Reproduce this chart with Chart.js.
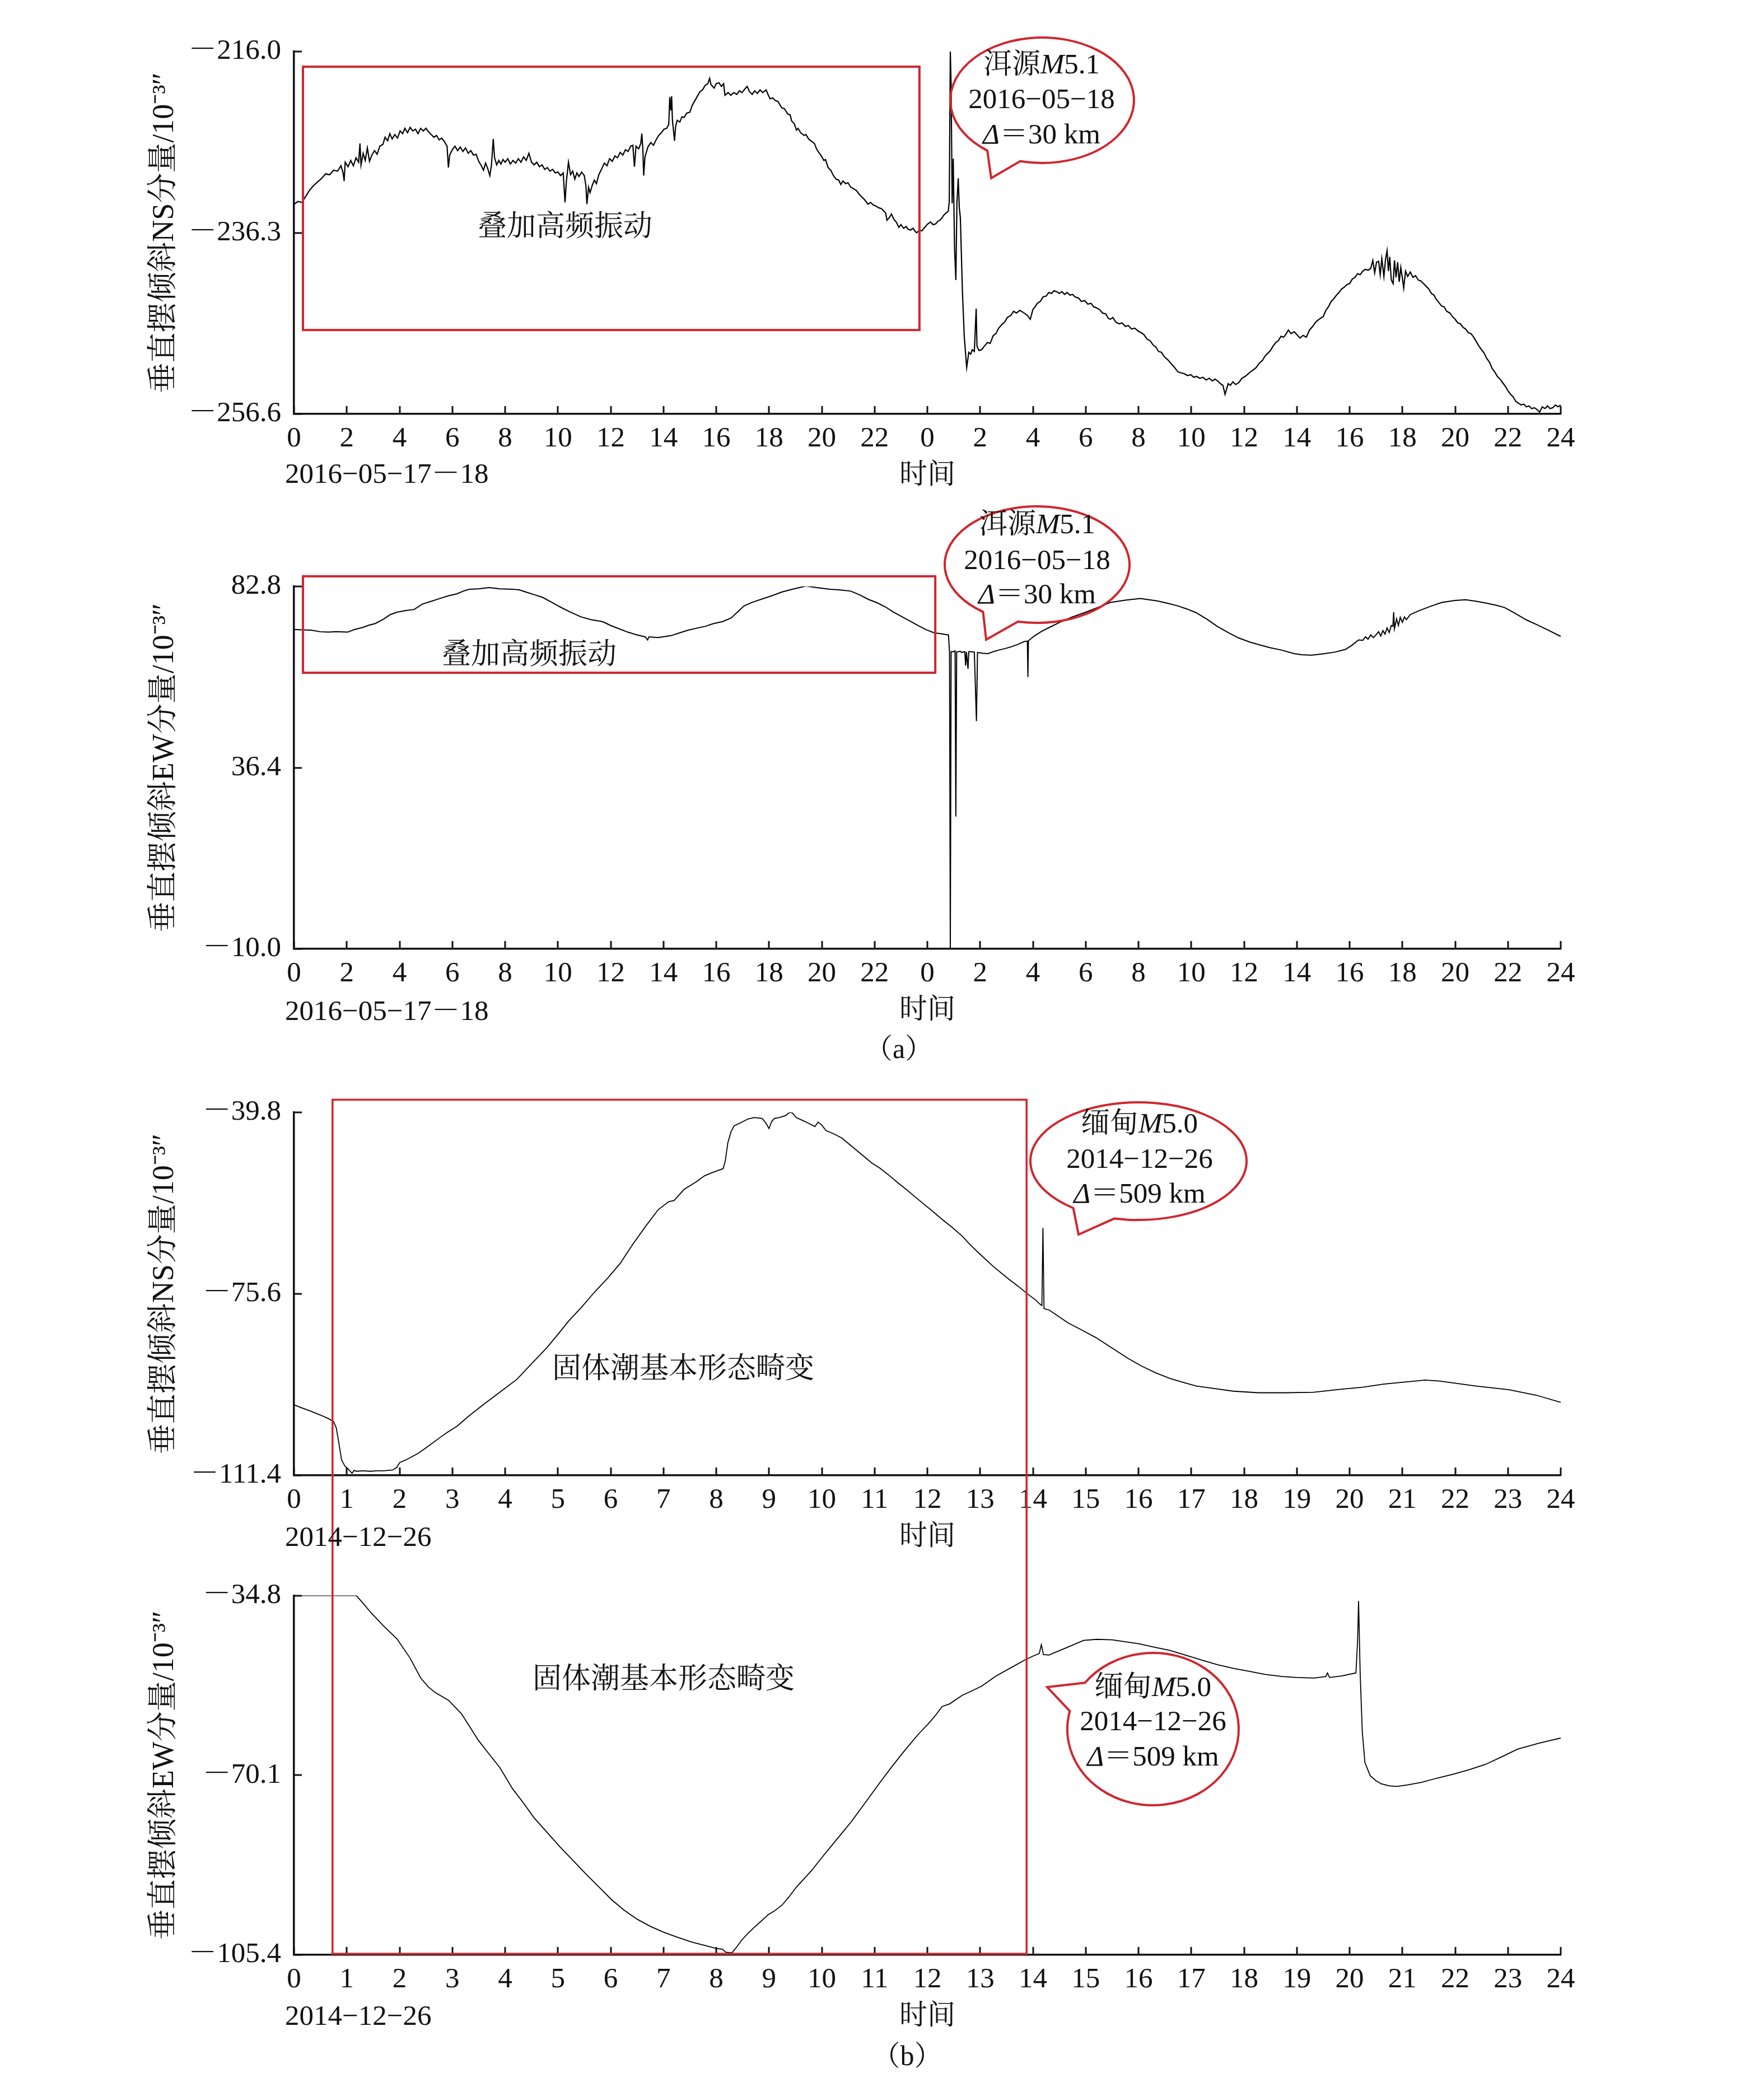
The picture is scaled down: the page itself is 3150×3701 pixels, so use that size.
<!DOCTYPE html>
<html>
<head>
<meta charset="utf-8">
<script src="https://cdn.jsdelivr.net/npm/chart.js@4.4.1/dist/chart.umd.min.js"></script>
<style>
  body { margin: 0; background: #fff; width: 3150px; height: 3701px; position: relative; overflow: hidden; }
  canvas { position: absolute; left: 0; }
</style>
</head>
<body>
<canvas id="c1" width="3150" height="900" style="top:0px"></canvas>
<canvas id="c2" width="3150" height="1000" style="top:900px"></canvas>
<canvas id="c3" width="3150" height="915" style="top:1880px"></canvas>
<canvas id="c4" width="3150" height="906" style="top:2795px"></canvas>
<script>
// ---- data: [hour, value] ----
// (a) 2016-05-17/18, two days on one axis (0..48 h)
const nsA = [
  [0.00,-233.1],[0.15,-232.8],[0.30,-232.9],[0.45,-232.2],[0.60,-231.5],[0.75,-231.0],[0.90,-230.6],[1.05,-230.2],
  [1.20,-229.7],[1.35,-229.8],[1.50,-229.3],[1.65,-229.4],[1.78,-228.8],[1.86,-229.6],[1.90,-230.5],[1.94,-228.4],
  [2.05,-228.9],[2.15,-228.2],[2.25,-228.8],[2.35,-227.9],[2.45,-228.4],[2.50,-226.3],[2.54,-228.7],[2.62,-227.4],
  [2.70,-228.2],[2.78,-226.8],[2.86,-228.3],[2.95,-227.6],[3.05,-227.1],[3.15,-227.5],[3.25,-226.6],[3.37,-226.4],
  [3.45,-225.6],[3.55,-226.0],[3.63,-225.2],[3.72,-225.8],[3.82,-225.3],[3.92,-225.7],[4.02,-224.9],[4.12,-225.2],
  [4.20,-224.6],[4.30,-225.1],[4.40,-224.5],[4.50,-224.9],[4.60,-224.7],[4.70,-225.2],[4.80,-224.6],[4.90,-224.9],
  [5.00,-224.6],[5.10,-225.0],[5.20,-225.3],[5.30,-225.6],[5.40,-225.4],[5.50,-225.9],[5.60,-225.7],[5.70,-226.1],
  [5.80,-226.6],[5.85,-229.0],[5.90,-227.6],[6.00,-227.0],[6.10,-226.6],[6.20,-227.1],[6.30,-226.7],[6.40,-227.2],
  [6.50,-226.8],[6.60,-227.4],[6.70,-227.1],[6.80,-227.6],[6.90,-227.5],[7.00,-228.3],[7.10,-228.8],[7.18,-229.3],
  [7.26,-228.5],[7.34,-229.1],[7.42,-229.9],[7.48,-228.8],[7.55,-225.8],[7.60,-227.9],[7.68,-228.7],[7.76,-228.2],
  [7.84,-228.6],[7.92,-228.1],[8.00,-228.4],[8.10,-228.0],[8.20,-228.6],[8.30,-228.2],[8.40,-228.5],[8.50,-228.0],
  [8.60,-228.4],[8.70,-227.8],[8.80,-228.2],[8.90,-227.4],[9.00,-228.4],[9.10,-228.7],[9.20,-228.4],[9.30,-228.9],
  [9.40,-228.7],[9.50,-229.2],[9.60,-229.0],[9.70,-229.4],[9.80,-229.2],[9.90,-229.6],[10.00,-229.5],[10.10,-229.9],
  [10.20,-229.6],[10.27,-232.9],[10.32,-230.6],[10.40,-228.4],[10.48,-229.8],[10.56,-229.4],[10.64,-230.3],[10.72,-229.6],
  [10.80,-230.0],[10.90,-229.5],[11.00,-229.9],[11.06,-231.0],[11.10,-233.1],[11.16,-231.2],[11.22,-231.8],[11.30,-231.0],
  [11.38,-230.4],[11.46,-230.8],[11.55,-229.8],[11.65,-229.2],[11.76,-228.5],[11.86,-228.8],[11.96,-228.0],[12.06,-228.3],
  [12.16,-227.7],[12.26,-227.9],[12.36,-227.3],[12.46,-227.6],[12.56,-227.0],[12.66,-227.2],[12.76,-226.6],[12.84,-226.5],
  [12.90,-228.9],[12.96,-226.6],[13.06,-226.9],[13.14,-226.3],[13.18,-225.2],[13.22,-227.0],[13.25,-229.9],[13.30,-227.8],
  [13.41,-226.7],[13.52,-226.2],[13.62,-226.5],[13.72,-225.9],[13.82,-225.4],[13.92,-225.1],[14.02,-224.7],[14.12,-224.6],
  [14.20,-224.2],[14.24,-221.1],[14.28,-222.6],[14.31,-221.0],[14.34,-223.7],[14.42,-226.0],[14.46,-224.4],[14.52,-223.7],
  [14.62,-223.9],[14.70,-223.3],[14.78,-223.4],[14.88,-222.9],[15.00,-222.8],[15.08,-222.1],[15.15,-221.7],[15.25,-221.2],
  [15.38,-220.5],[15.48,-220.3],[15.58,-219.8],[15.68,-219.6],[15.75,-219.0],[15.80,-219.7],[15.92,-220.1],[16.00,-219.6],
  [16.10,-219.5],[16.20,-219.9],[16.28,-219.6],[16.33,-220.9],[16.45,-220.6],[16.55,-220.9],[16.67,-220.6],[16.78,-220.8],
  [16.88,-220.4],[16.98,-220.6],[17.08,-220.2],[17.17,-219.9],[17.26,-220.5],[17.36,-220.8],[17.46,-220.4],[17.56,-220.7],
  [17.66,-220.3],[17.76,-220.6],[17.89,-220.3],[17.96,-220.8],[18.04,-221.3],[18.14,-221.2],[18.24,-221.5],[18.34,-221.6],
  [18.48,-222.3],[18.58,-222.4],[18.71,-223.0],[18.80,-223.1],[18.86,-223.8],[18.96,-224.1],[19.04,-224.8],[19.10,-224.6],
  [19.20,-225.1],[19.33,-225.4],[19.40,-225.3],[19.50,-225.8],[19.63,-226.1],[19.72,-226.3],[19.80,-226.9],[19.86,-227.2],
  [19.96,-227.6],[20.08,-228.2],[20.14,-228.1],[20.24,-229.0],[20.34,-229.3],[20.44,-229.9],[20.54,-230.3],[20.64,-230.4],
  [20.72,-230.9],[20.80,-230.5],[20.90,-230.8],[20.99,-230.7],[21.10,-231.2],[21.22,-231.4],[21.32,-231.6],[21.42,-232.0],
  [21.52,-232.3],[21.62,-232.6],[21.75,-233.1],[21.85,-232.9],[21.95,-233.2],[22.05,-233.3],[22.15,-233.5],[22.26,-233.6],
  [22.36,-233.9],[22.42,-234.1],[22.47,-234.9],[22.56,-234.6],[22.64,-234.2],[22.73,-234.8],[22.82,-235.1],[22.92,-235.7],
  [23.00,-235.4],[23.10,-235.8],[23.20,-235.6],[23.26,-235.9],[23.36,-236.0],[23.46,-235.8],[23.55,-236.2],[23.60,-236.3],
  [23.70,-236.0],[23.79,-236.1],[23.90,-235.7],[24.02,-235.3],[24.12,-235.1],[24.22,-235.4],[24.32,-235.3],[24.40,-235.0],
  [24.48,-234.9],[24.56,-234.6],[24.63,-234.3],[24.71,-234.1],[24.79,-233.9],[24.83,-232.8],[24.87,-216.0],[24.90,-219.8],
  [24.94,-233.0],[24.98,-228.0],[25.03,-238.0],[25.08,-241.6],[25.12,-233.0],[25.17,-230.2],[25.21,-233.5],[25.25,-234.6],
  [25.33,-243.0],[25.40,-248.0],[25.49,-251.4],[25.57,-249.7],[25.64,-249.9],[25.70,-249.4],[25.78,-249.6],[25.85,-244.8],
  [25.88,-249.0],[25.96,-249.5],[26.06,-249.4],[26.16,-249.0],[26.28,-248.6],[26.38,-248.7],[26.50,-247.8],[26.60,-247.6],
  [26.70,-247.0],[26.82,-246.6],[26.93,-246.3],[27.03,-245.8],[27.15,-245.6],[27.27,-245.1],[27.38,-245.3],[27.50,-245.0],
  [27.62,-245.2],[27.72,-245.4],[27.80,-245.6],[27.90,-246.0],[28.00,-244.9],[28.08,-244.6],[28.17,-244.2],[28.28,-244.0],
  [28.38,-243.5],[28.50,-243.4],[28.60,-243.0],[28.70,-243.1],[28.80,-242.8],[28.90,-242.9],[29.00,-243.1],[29.10,-242.9],
  [29.20,-243.2],[29.30,-243.0],[29.40,-243.3],[29.50,-243.2],[29.60,-243.5],[29.72,-243.6],[29.84,-244.0],[29.96,-243.9],
  [30.08,-244.3],[30.20,-244.2],[30.30,-244.6],[30.40,-244.7],[30.52,-244.9],[30.64,-245.3],[30.76,-245.4],[30.86,-245.9],
  [30.93,-246.0],[31.03,-245.8],[31.14,-246.3],[31.26,-246.5],[31.38,-246.4],[31.50,-246.8],[31.62,-246.7],[31.74,-247.1],
  [31.86,-247.0],[31.98,-247.3],[32.10,-247.5],[32.20,-247.7],[32.32,-248.2],[32.44,-248.4],[32.56,-248.9],[32.66,-249.1],
  [32.76,-249.6],[32.87,-249.7],[32.98,-250.2],[33.10,-250.5],[33.22,-250.9],[33.34,-251.3],[33.42,-251.6],[33.50,-251.9],
  [33.62,-252.0],[33.74,-252.1],[33.86,-252.3],[33.98,-252.2],[34.10,-252.5],[34.20,-252.4],[34.32,-252.6],[34.44,-252.5],
  [34.56,-252.8],[34.68,-252.6],[34.80,-252.9],[34.90,-252.7],[35.00,-252.9],[35.10,-253.2],[35.20,-253.4],[35.28,-254.4],
  [35.34,-253.8],[35.40,-253.2],[35.48,-253.4],[35.58,-253.0],[35.68,-253.3],[35.80,-253.1],[35.92,-252.6],[36.04,-252.4],
  [36.16,-252.1],[36.28,-251.8],[36.38,-251.6],[36.46,-251.4],[36.58,-250.9],[36.70,-250.6],[36.80,-250.1],[36.90,-249.8],
  [37.00,-249.5],[37.10,-249.0],[37.20,-248.6],[37.30,-248.4],[37.40,-247.9],[37.50,-248.0],[37.58,-247.7],[37.68,-247.2],
  [37.78,-247.6],[37.90,-247.4],[38.00,-247.7],[38.12,-248.1],[38.24,-247.8],[38.36,-248.0],[38.48,-247.2],[38.60,-246.8],
  [38.72,-246.3],[38.84,-246.0],[39.00,-245.7],[39.10,-245.0],[39.20,-244.6],[39.30,-244.0],[39.40,-243.7],[39.50,-243.3],
  [39.60,-243.0],[39.70,-242.6],[39.80,-242.4],[39.90,-242.1],[40.00,-242.0],[40.10,-241.5],[40.20,-241.3],[40.30,-240.9],
  [40.40,-241.0],[40.50,-240.6],[40.60,-240.4],[40.70,-240.5],[40.80,-240.3],[40.88,-239.4],[40.95,-240.8],[41.02,-239.6],
  [41.10,-239.5],[41.16,-241.0],[41.22,-239.2],[41.30,-241.2],[41.36,-239.3],[41.42,-238.3],[41.47,-240.6],[41.52,-239.0],
  [41.58,-241.6],[41.65,-242.0],[41.70,-239.4],[41.76,-241.3],[41.82,-239.6],[41.88,-241.8],[41.94,-240.2],[42.00,-241.4],
  [42.05,-242.5],[42.12,-240.6],[42.20,-241.2],[42.30,-240.7],[42.40,-241.3],[42.50,-241.1],[42.60,-241.6],[42.70,-241.7],
  [42.80,-242.0],[42.90,-242.3],[43.00,-242.6],[43.10,-243.1],[43.20,-243.3],[43.27,-243.7],[43.38,-244.1],[43.48,-244.5],
  [43.58,-244.6],[43.68,-245.1],[43.80,-245.3],[43.90,-245.7],[44.00,-246.0],[44.10,-246.4],[44.20,-246.5],[44.30,-246.9],
  [44.40,-247.1],[44.50,-247.5],[44.60,-247.6],[44.70,-248.0],[44.80,-248.5],[44.90,-249.0],[45.00,-249.4],[45.10,-249.8],
  [45.20,-250.4],[45.30,-250.8],[45.40,-251.5],[45.50,-251.9],[45.60,-252.4],[45.70,-252.7],[45.80,-253.1],[45.90,-253.5],
  [46.00,-254.0],[46.10,-254.4],[46.20,-254.7],[46.30,-255.2],[46.40,-255.4],[46.50,-255.6],[46.60,-255.5],[46.70,-255.8],
  [46.80,-255.7],[46.90,-256.0],[47.00,-255.9],[47.10,-256.1],[47.20,-256.4],[47.30,-255.8],[47.40,-256.0],[47.50,-255.7],
  [47.60,-256.0],[47.70,-255.9],[47.80,-255.6],[47.90,-255.8],[48.00,-255.6]
];

const ewA = [
  [0.0,71.8],[0.3,71.7],[0.65,71.6],[1.0,71.2],[1.3,71.1],[1.6,71.2],[2.03,71.1],[2.3,71.8],[2.6,72.3],[2.85,72.9],
  [3.08,73.3],[3.41,74.5],[3.65,75.6],[3.9,76.2],[4.2,76.6],[4.55,76.9],[4.87,78.3],[5.2,79.0],[5.52,79.7],[5.85,80.4],
  [6.17,80.9],[6.45,81.7],[6.66,82.1],[7.0,82.2],[7.39,82.5],[7.8,82.2],[8.28,82.1],[8.55,81.9],[8.77,81.4],[9.1,80.7],
  [9.42,80.0],[9.75,78.8],[10.07,77.6],[10.45,76.3],[10.88,75.0],[11.25,74.3],[11.69,73.8],[12.0,72.8],[12.34,71.9],
  [12.65,71.1],[12.99,70.4],[13.31,69.9],[13.4,69.1],[13.45,69.9],[13.8,69.7],[14.29,70.2],[14.6,70.9],[14.94,71.6],
  [15.25,72.1],[15.59,72.6],[15.9,73.3],[16.24,73.8],[16.56,74.7],[16.8,76.2],[17.05,77.8],[17.35,78.7],[17.7,79.5],
  [18.1,80.4],[18.5,81.4],[18.95,82.2],[19.4,82.9],[19.8,82.5],[20.3,82.1],[20.7,81.9],[21.1,81.6],[21.45,80.6],
  [21.76,79.5],[22.1,78.6],[22.4,77.6],[22.7,76.3],[23.05,75.0],[23.4,73.7],[23.7,72.6],[24.0,71.6],[24.27,70.9],
  [24.5,70.7],[24.68,70.5],[24.8,70.4],[24.84,66.0],[24.87,-9.8],[24.9,66.1],[25.0,66.1],[25.05,66.3],[25.08,23.9],
  [25.11,66.0],[25.25,66.2],[25.3,65.9],[25.42,66.1],[25.45,62.5],[25.48,66.0],[25.54,61.7],[25.57,66.1],[25.65,66.1],
  [25.78,66.0],[25.86,48.3],[25.9,65.9],[26.1,65.7],[26.3,65.6],[26.5,66.1],[26.7,66.5],[26.95,66.9],[27.2,67.4],
  [27.45,68.0],[27.68,68.7],[27.79,68.8],[27.81,59.6],[27.83,68.9],[28.05,70.1],[28.33,71.3],[28.65,72.4],[28.98,73.5],
  [29.45,74.9],[29.96,76.1],[30.45,77.4],[30.94,78.7],[31.5,79.3],[32.07,79.7],[32.4,79.4],[32.7,79.1],[33.1,78.5],
  [33.5,77.8],[33.85,77.0],[34.18,76.1],[34.6,74.4],[34.98,72.6],[35.4,71.0],[35.8,69.6],[36.2,68.6],[36.6,67.8],
  [37.0,67.1],[37.42,66.5],[37.9,65.6],[38.2,65.3],[38.56,65.2],[39.05,65.6],[39.45,66.0],[39.85,66.7],[40.1,67.8],
  [40.34,69.1],[40.5,69.0],[40.6,69.9],[40.7,69.3],[40.8,70.4],[40.9,69.7],[41.0,70.4],[41.1,71.2],[41.18,70.1],
  [41.26,71.5],[41.34,70.6],[41.42,72.2],[41.5,71.0],[41.58,72.8],[41.64,72.6],[41.67,76.2],[41.7,72.0],[41.78,74.5],
  [41.85,72.8],[41.92,74.9],[42.0,73.6],[42.08,75.0],[42.15,74.3],[42.3,75.6],[42.6,76.5],[43.1,77.8],[43.5,78.7],
  [44.0,79.2],[44.4,79.4],[44.8,79.0],[45.2,78.5],[45.55,78.0],[45.87,77.4],[46.25,76.0],[46.68,74.3],[47.1,73.0],
  [47.5,71.7],[48.0,70.0]
];

// (b) 2014-12-26 (0..24 h)
const nsB = [
  [0.00,-97.5],[0.15,-98.1],[0.33,-98.8],[0.5,-99.5],[0.65,-100.2],[0.75,-100.8],[0.8,-102.0],[0.85,-105.0],[0.9,-108.3],
  [0.96,-109.5],[1.02,-110.1],[1.1,-111.0],[1.14,-110.4],[1.18,-110.6],[1.3,-110.5],[1.45,-110.6],[1.55,-110.5],
  [1.7,-110.5],[1.87,-110.35],[1.95,-109.8],[2.0,-108.9],[2.15,-108.2],[2.36,-107.0],[2.55,-105.6],[2.77,-103.9],
  [2.92,-102.8],[3.09,-101.7],[3.3,-99.8],[3.58,-97.5],[3.9,-95.0],[4.22,-92.5],[4.5,-89.4],[4.8,-86.1],[5.0,-83.6],
  [5.2,-81.0],[5.45,-78.2],[5.69,-75.3],[5.95,-72.4],[6.18,-69.6],[6.42,-65.8],[6.66,-62.3],[6.9,-59.0],[7.1,-57.4],
  [7.2,-57.2],[7.39,-55.0],[7.62,-53.5],[7.78,-52.3],[7.92,-51.7],[8.05,-51.2],[8.13,-50.9],[8.17,-49.45],[8.22,-45.8],
  [8.28,-43.6],[8.34,-42.45],[8.49,-41.7],[8.6,-41.1],[8.72,-40.8],[8.87,-41.0],[8.94,-41.9],[9.0,-43.0],[9.05,-41.6],
  [9.1,-41.0],[9.2,-40.8],[9.32,-40.4],[9.4,-39.7],[9.45,-40.0],[9.51,-40.8],[9.62,-41.3],[9.74,-41.9],[9.87,-42.6],
  [9.93,-41.7],[10.0,-42.3],[10.08,-43.4],[10.22,-44.0],[10.38,-44.85],[10.5,-45.9],[10.65,-47.2],[10.8,-48.5],
  [10.95,-49.8],[11.1,-50.8],[11.25,-52.0],[11.42,-53.5],[11.6,-55.0],[11.75,-56.3],[11.9,-57.6],[12.1,-59.3],
  [12.28,-60.9],[12.46,-62.4],[12.66,-64.2],[12.82,-66.0],[12.99,-67.7],[13.25,-70.2],[13.52,-72.5],[13.72,-74.1],
  [13.91,-75.7],[14.05,-76.8],[14.13,-77.6],[14.17,-77.9],[14.19,-62.6],[14.21,-78.5],[14.31,-78.8],[14.48,-80.0],
  [14.66,-81.3],[14.92,-82.7],[15.19,-84.2],[15.5,-86.3],[15.8,-88.3],[16.05,-89.8],[16.33,-91.2],[16.6,-92.3],
  [16.86,-93.1],[17.1,-93.8],[17.39,-94.2],[17.8,-94.8],[18.27,-95.1],[18.8,-95.1],[19.32,-95.0],[19.85,-94.4],
  [20.25,-94.0],[20.64,-93.4],[21.05,-93.0],[21.43,-92.6],[21.7,-92.8],[22.05,-93.3],[22.4,-93.8],[23.02,-94.5],
  [23.54,-95.6],[24.0,-97.0]
];

const ewB = [
  [0.0,-34.8],[0.6,-34.8],[1.18,-34.8],[1.3,-36.2],[1.46,-38.2],[1.7,-40.8],[1.95,-43.3],[2.2,-47.1],[2.4,-51.0],
  [2.55,-52.8],[2.68,-53.9],[2.8,-54.6],[2.93,-55.4],[3.17,-58.0],[3.35,-60.9],[3.49,-63.2],[3.7,-66.0],[3.9,-68.6],
  [4.14,-72.75],[4.35,-75.6],[4.55,-78.5],[4.8,-81.4],[5.04,-84.2],[5.3,-87.0],[5.52,-89.4],[5.78,-92.1],[6.01,-94.5],
  [6.25,-96.6],[6.5,-98.4],[6.75,-99.8],[6.99,-100.9],[7.25,-101.9],[7.54,-102.9],[7.8,-103.6],[8.0,-104.15],
  [8.12,-104.3],[8.18,-104.9],[8.3,-105.0],[8.4,-103.7],[8.49,-102.4],[8.6,-101.2],[8.72,-100.0],[8.85,-98.8],
  [8.98,-97.55],[9.1,-96.8],[9.25,-95.6],[9.38,-94.0],[9.51,-92.2],[9.66,-90.5],[9.81,-88.8],[10.0,-86.3],[10.19,-83.9],
  [10.38,-81.5],[10.57,-79.1],[10.76,-76.4],[10.95,-73.7],[11.14,-71.0],[11.33,-68.4],[11.52,-65.9],[11.71,-63.5],
  [11.86,-61.7],[12.01,-60.1],[12.15,-58.4],[12.28,-56.6],[12.42,-56.1],[12.66,-54.4],[12.85,-53.5],[13.03,-52.6],
  [13.3,-50.6],[13.58,-49.0],[13.84,-47.5],[14.0,-46.7],[14.12,-46.2],[14.16,-44.45],[14.2,-46.4],[14.3,-46.5],
  [14.6,-45.2],[14.96,-43.6],[15.21,-43.4],[15.5,-43.5],[15.77,-43.9],[16.02,-44.3],[16.28,-44.9],[16.6,-45.6],
  [16.89,-46.5],[17.2,-47.5],[17.5,-48.4],[17.8,-49.1],[18.1,-49.7],[18.4,-50.3],[18.72,-50.7],[19.0,-50.9],
  [19.33,-51.0],[19.55,-50.7],[19.58,-50.0],[19.62,-50.9],[19.85,-50.6],[20.12,-50.0],[20.15,-44.0],[20.17,-35.9],
  [20.2,-50.0],[20.24,-61.5],[20.29,-67.6],[20.39,-70.2],[20.5,-71.2],[20.6,-71.8],[20.75,-72.2],[20.9,-72.3],
  [21.1,-72.0],[21.36,-71.5],[21.65,-70.7],[21.97,-69.9],[22.27,-69.0],[22.57,-68.0],[22.88,-66.5],[23.18,-65.0],
  [23.59,-63.8],[24.0,-62.8]
];

// ---- axes ----
const ticksA = [0,2,4,6,8,10,12,14,16,18,20,22,24,26,28,30,32,34,36,38,40,42,44,46,48];
const labelsA = ['0','2','4','6','8','10','12','14','16','18','20','22','0','2','4','6','8','10','12','14','16','18','20','22','24'];
const ticksB = [0,1,2,3,4,5,6,7,8,9,10,11,12,13,14,15,16,17,18,19,20,21,22,23,24];
const labelsB = ['0','1','2','3','4','5','6','7','8','9','10','11','12','13','14','15','16','17','18','19','20','21','22','23','24'];
const yNsA = [-256.6, -236.3, -216.0];
const yEwA = [-10.0, 36.4, 82.8];
const yNsB = [-111.4, -75.6, -39.8];
const yEwB = [-105.4, -70.1, -34.8];
const titleNS = '垂直摆倾斜NS分量/10⁻³″';
const titleEW = '垂直摆倾斜EW分量/10⁻³″';

const SERIF = '"Liberation Serif", "Noto Serif CJK SC", "Noto Sans CJK SC", serif';
const RED = '#d0262e';
const INK = '#111111';

function fmt(v) {
  return v < 0 ? '－' + Math.abs(v).toFixed(1) : v.toFixed(1);
}

// draw "a*b*c" with the parts between * in italic, centred on cx
function richText(ctx, str, cx, y, size) {
  const parts = str.split('*');
  let total = 0;
  const widths = parts.map((p, i) => {
    ctx.font = (i % 2 ? 'italic ' : '') + size + 'px ' + SERIF;
    const w = ctx.measureText(p).width;
    total += w;
    return w;
  });
  let x = cx - total / 2;
  ctx.textBaseline = 'middle';
  ctx.textAlign = 'left';
  parts.forEach((p, i) => {
    ctx.font = (i % 2 ? 'italic ' : '') + size + 'px ' + SERIF;
    ctx.fillText(p, x, y);
    x += widths[i];
  });
}

function callout(ctx, c, off) {
  const cy = c.cy - off;
  const t1 = Math.atan2((c.b1[1] - off - cy) / c.ry, (c.b1[0] - c.cx) / c.rx);
  const t2 = Math.atan2((c.b2[1] - off - cy) / c.ry, (c.b2[0] - c.cx) / c.rx);
  let d = t2 - t1;
  while (d < 0) d += Math.PI * 2;
  ctx.beginPath();
  ctx.ellipse(c.cx, cy, c.rx, c.ry, 0, t1, t2, d <= Math.PI);
  ctx.lineTo(c.tip[0], c.tip[1] - off);
  ctx.closePath();
  ctx.strokeStyle = RED;
  ctx.lineWidth = 4;
  ctx.lineJoin = 'miter';
  ctx.stroke();
  ctx.fillStyle = INK;
  c.lines.forEach((s, i) => richText(ctx, s, c.tx, c.ty[i] - off, 51));
}

function decoPlugin(d) {
  return {
    id: 'deco',
    afterDraw(chart) {
      const ctx = chart.ctx;
      const xs = chart.scales.x, ys = chart.scales.y;
      const area = chart.chartArea;
      const off = d.top;
      ctx.save();
      // inward tick marks
      ctx.strokeStyle = '#111';
      ctx.lineWidth = 3;
      ctx.beginPath();
      xs.ticks.forEach(t => {
        const px = Math.round(xs.getPixelForValue(t.value));
        ctx.moveTo(px, area.bottom);
        ctx.lineTo(px, area.bottom - 14);
      });
      ys.ticks.forEach(t => {
        const py = Math.round(ys.getPixelForValue(t.value));
        ctx.moveTo(area.left, py);
        ctx.lineTo(area.left + 14, py);
      });
      ctx.stroke();

      // red frame
      const r = d.rect;
      const L = xs.getPixelForValue(r.x0), R = xs.getPixelForValue(r.x1);
      const T = r.y0 === null ? -10 : ys.getPixelForValue(r.y0);
      const B = r.y1 === null ? chart.height + 10 : ys.getPixelForValue(r.y1);
      ctx.strokeStyle = RED;
      ctx.lineWidth = r.w;
      ctx.strokeRect(L, T, R - L, B - T);

      // free texts
      ctx.fillStyle = INK;
      d.texts.forEach(t => {
        ctx.font = t.size + 'px ' + SERIF;
        ctx.textAlign = t.align || 'center';
        ctx.textBaseline = 'middle';
        ctx.fillText(t.text, t.x, t.y - off);
      });

      if (d.callout) callout(ctx, d.callout, off);
      ctx.restore();
    }
  };
}

function panel(id, cfg) {
  return new Chart(document.getElementById(id), {
    type: 'line',
    data: {
      datasets: [{
        data: cfg.series.map(p => ({ x: p[0], y: p[1] })),
        borderColor: '#000',
        borderWidth: cfg.lw,
        pointRadius: 0,
        tension: 0,
        fill: false
      }]
    },
    options: {
      responsive: false,
      animation: false,
      devicePixelRatio: 1,
      layout: { padding: { top: cfg.padTop, right: 363, bottom: cfg.padBottom, left: 0 } },
      plugins: { legend: { display: false }, tooltip: { enabled: false } },
      scales: {
        x: {
          type: 'linear',
          min: cfg.xTicks[0],
          max: cfg.xTicks[cfg.xTicks.length - 1],
          grid: { display: false, drawTicks: false },
          border: { display: true, width: 3.5, color: '#111' },
          afterBuildTicks: s => { s.ticks = cfg.xTicks.map(v => ({ value: v })); },
          afterFit: s => { s.height = 160; },
          ticks: {
            autoSkip: false, maxRotation: 0, padding: 14, color: INK,
            font: { family: SERIF, size: 51 },
            callback: (v, i) => cfg.xLabels[i]
          },
          title: {
            display: true, text: '时间', color: INK,
            font: { family: SERIF, size: 50 },
            padding: { top: 0, bottom: 19 }
          }
        },
        y: {
          type: 'linear',
          min: cfg.yTicks[0],
          max: cfg.yTicks[2],
          grid: { display: false, drawTicks: false },
          border: { display: true, width: 3.5, color: '#111' },
          afterBuildTicks: s => { s.ticks = cfg.yTicks.map(v => ({ value: v })); },
          afterFit: s => { s.width = 525; },
          ticks: {
            padding: 23, color: INK,
            font: { family: SERIF, size: 51 },
            callback: v => fmt(v)
          },
          title: {
            display: true, text: cfg.yTitle, color: INK,
            font: { family: SERIF, size: 54 },
            padding: { top: 262, bottom: 0 }
          }
        }
      }
    },
    plugins: [decoPlugin(cfg.deco)]
  });
}

// (a) NS
panel('c1', {
  series: nsA, lw: 2.2, xTicks: ticksA, xLabels: labelsA, yTicks: yNsA, yTitle: titleNS,
  padTop: 92, padBottom: 1,
  deco: {
    top: 0,
    rect: { x0: 0.34, x1: 23.7, y0: -217.7, y1: -247.2, w: 4 },
    texts: [
      { text: '叠加高频振动', x: 1009, y: 407, size: 52 },
      { text: '2016−05−17－18', x: 509, y: 849, size: 51, align: 'left' }
    ],
    callout: {
      cx: 1861, cy: 179, rx: 164, ry: 112, b1: [1764, 268], b2: [1822, 287], tip: [1770, 318],
      tx: 1860, ty: [118, 180, 243], lines: ['洱源*M*5.1', '2016−05−18', '*Δ*＝30 km']
    }
  }
});

// (a) EW
panel('c2', {
  series: ewA, lw: 2, xTicks: ticksA, xLabels: labelsA, yTicks: yEwA, yTitle: titleEW,
  padTop: 147, padBottom: 46,
  deco: {
    top: 900,
    rect: { x0: 0.34, x1: 24.3, y0: 85.4, y1: 60.7, w: 4 },
    texts: [
      { text: '叠加高频振动', x: 945, y: 1171, size: 52 },
      { text: '2016−05−17－18', x: 509, y: 1808, size: 51, align: 'left' },
      { text: '（a）', x: 1605, y: 1876, size: 50 }
    ],
    callout: {
      cx: 1852, cy: 1008, rx: 165, ry: 104, b1: [1757, 1091], b2: [1818, 1109], tip: [1761, 1142],
      tx: 1852, ty: [939, 1003, 1064], lines: ['洱源*M*5.1', '2016−05−18', '*Δ*＝30 km']
    }
  }
});

// (b) NS
panel('c3', {
  series: nsB, lw: 1.8, xTicks: ticksB, xLabels: labelsB, yTicks: yNsB, yTitle: titleNS,
  padTop: 106, padBottom: 1,
  deco: {
    top: 1880,
    rect: { x0: 0.73, x1: 13.88, y0: -37.3, y1: null, w: 3.5 },
    texts: [
      { text: '固体潮基本形态畸变', x: 1220, y: 2446, size: 52 },
      { text: '2014−12−26', x: 509, y: 2747, size: 51, align: 'left' }
    ],
    callout: {
      cx: 2033, cy: 2073, rx: 193, ry: 105, b1: [1919, 2155], b2: [1990, 2176], tip: [1926, 2204],
      tx: 2035, ty: [2009, 2072, 2134], lines: ['缅甸*M*5.0', '2014−12−26', '*Δ*＝509 km']
    }
  }
});

// (b) EW
panel('c4', {
  series: ewB, lw: 1.8, xTicks: ticksB, xLabels: labelsB, yTicks: yEwB, yTitle: titleEW,
  padTop: 48, padBottom: 51,
  deco: {
    top: 2795,
    rect: { x0: 0.73, x1: 13.88, y0: null, y1: -105.2, w: 3.5 },
    texts: [
      { text: '固体潮基本形态畸变', x: 1185, y: 3000, size: 52 },
      { text: '2014−12−26', x: 509, y: 3602, size: 51, align: 'left' },
      { text: '（b）', x: 1620, y: 3674, size: 50 }
    ],
    callout: {
      cx: 2059, cy: 3087, rx: 153, ry: 136, b1: [1940, 3006], b2: [1911, 3055], tip: [1870, 3012],
      tx: 2059, ty: [3015, 3076, 3139], lines: ['缅甸*M*5.0', '2014−12−26', '*Δ*＝509 km']
    }
  }
});
</script>
</body>
</html>
